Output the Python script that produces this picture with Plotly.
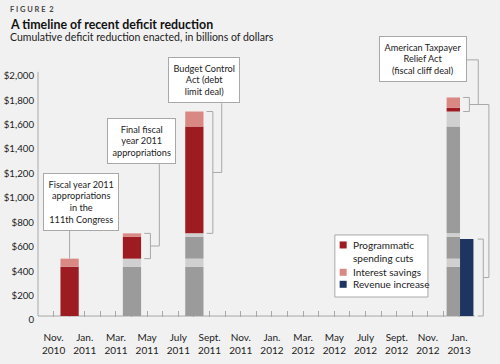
import plotly.graph_objects as go

# ---------------- data ----------------
event_names = [
    "Fiscal year 2011<br>appropriations<br>in the<br>111th Congress",
    "Final fiscal<br>year 2011<br>appropriations",
    "Budget Control<br>Act (debt<br>limit deal)",
    "American Taxpayer<br>Relief Act<br>(fiscal cliff deal)",
]
event_months = [1, 5, 9, 26]          # month index, 0 = Nov. 2010
spending_cuts = [404, 180, 875, 30]    # billions of dollars
interest_savings = [66, 27, 123, 85]
revenue_increase = [0, 0, 0, 630]

tick_labels = ["Nov.<br>2010", "", "Jan.<br>2011", "", "Mar.<br>2011", "", "May<br>2011", "",
               "July<br>2011", "", "Sept.<br>2011", "", "Nov.<br>2011", "", "Jan.<br>2012", "",
               "Mar.<br>2012", "", "May<br>2012", "", "July<br>2012", "", "Sept.<br>2012", "",
               "Nov.<br>2012", "", "Jan.<br>2013"]
y_tick_vals = [0, 200, 400, 600, 800, 1000, 1200, 1400, 1600, 1800, 2000]
y_tick_text = ["0", "$200", "$400", "$600", "$800", "$1,000", "$1,200", "$1,400", "$1,600", "$1,800", "$2,000"]

series_names = ["Programmatic<br>spending cuts", "Interest savings", "Revenue increase"]

# ---------------- styles ----------------
C_CUT, C_INT, C_REV = "#9c1c22", "#d98884", "#1e3561"
C_PCUT, C_PINT = "#9b9b9b", "#d0d0d0"
LINE = "#a8a8a8"
BG = "#f1f1f1"
FONT = "Lato"
TXT = "#222222"
bar_width = [1.17, 1.17, 1.17, 0.86]
bar_offset = [-0.56, -0.56, -0.56, -0.80]
rev_offset, rev_width = 0.06, 0.86

n = len(event_months)
cum_before = []
s = 0
for i in range(n):
    cum_before.append(s)
    s += spending_cuts[i] + interest_savings[i]

fig = go.Figure()

# prior (grey) segments
for j in range(n):
    later = list(range(j + 1, n))
    if not later:
        continue
    xs = [event_months[i] for i in later]
    fig.add_trace(go.Bar(x=xs, y=[spending_cuts[j]] * len(later), base=[cum_before[j]] * len(later),
                         width=[bar_width[i] for i in later], offset=[bar_offset[i] for i in later],
                         marker=dict(color=C_PCUT, line=dict(width=0)), showlegend=False, hoverinfo="skip"))
    fig.add_trace(go.Bar(x=xs, y=[interest_savings[j]] * len(later),
                         base=[cum_before[j] + spending_cuts[j]] * len(later),
                         width=[bar_width[i] for i in later], offset=[bar_offset[i] for i in later],
                         marker=dict(color=C_PINT, line=dict(width=0)), showlegend=False, hoverinfo="skip"))

# current event segments
fig.add_trace(go.Bar(x=event_months, y=spending_cuts, base=cum_before, width=bar_width, offset=bar_offset,
                     marker=dict(color=C_CUT, line=dict(width=0)), name="Programmatic spending cuts",
                     showlegend=False))
fig.add_trace(go.Bar(x=event_months, y=interest_savings,
                     base=[cum_before[i] + spending_cuts[i] for i in range(n)],
                     width=bar_width, offset=bar_offset, name="Interest savings",
                     marker=dict(color=C_INT, line=dict(width=0)), showlegend=False))
rev_idx = [i for i in range(n) if revenue_increase[i] > 0]
fig.add_trace(go.Bar(x=[event_months[i] for i in rev_idx], y=[revenue_increase[i] for i in rev_idx],
                     base=[0] * len(rev_idx), width=[rev_width] * len(rev_idx), offset=[rev_offset] * len(rev_idx),
                     name="Revenue increase",
                     marker=dict(color=C_REV, line=dict(width=0)), showlegend=False))

shapes = []
def path(pts):
    return "M " + " L ".join(f"{x},{y}" for x, y in pts)

# axis lines
shapes.append(dict(type="line", xref="paper", yref="y", x0=0, x1=0, y0=0, y1=2000,
                   line=dict(color=LINE, width=1), layer="below"))
shapes.append(dict(type="line", xref="x", yref="y", x0=-1.0, x1=27.0, y0=0, y1=0,
                   line=dict(color=LINE, width=1), layer="below"))

# annotation boxes (x center / bottom y in data units)
box_x = [1.73, 5.63, 9.63, 26.51]
box_bottom = [697, 1243, 1743, 1916]
box_side_y = 2098
annotations = []
for i in range(n):
    annotations.append(dict(x=box_x[i], y=box_bottom[i], xref="x", yref="y",
                            xanchor="right" if i == n - 1 else "center", yanchor="bottom",
                            text=event_names[i], showarrow=False, align="center",
                            font=dict(family=FONT, size=9.2, color=TXT),
                            bgcolor="#ffffff", bordercolor=LINE, borderwidth=1, borderpad=4.5))

# connectors
top0 = cum_before[0] + spending_cuts[0] + interest_savings[0]
xc0 = event_months[0] + bar_offset[0] + bar_width[0] / 2
shapes.append(dict(type="line", xref="x", yref="y", x0=xc0, x1=xc0, y0=top0, y1=box_bottom[0],
                   line=dict(color=LINE, width=1)))
mids = {}
for i in range(1, n):
    r = event_months[i] + bar_offset[i] + bar_width[i]
    lo = cum_before[i]
    hi = cum_before[i] + spending_cuts[i] + interest_savings[i]
    mid = (lo + hi) / 2
    pts = [(r + 0.2, hi), (r + 0.6, hi), (r + 0.6, lo), (r + 0.2, lo)]
    shapes.append(dict(type="path", xref="x", yref="y", path=path(pts), line=dict(color=LINE, width=1)))
    xm = r + 1.17
    if i < n - 1:
        conn = [(r + 0.6, mid), (xm, mid), (xm, box_bottom[i])]
    else:
        conn = [(r + 0.6, mid), (xm, mid), (xm, box_side_y), (box_x[i], box_side_y)]
        mids["atra"] = (xm, mid)
    shapes.append(dict(type="path", xref="x", yref="y", path=path(conn), line=dict(color=LINE, width=1)))

# revenue bracket
for i in rev_idx:
    r = event_months[i] + rev_offset + rev_width
    lo, hi = 0, revenue_increase[i]
    mid = (lo + hi) / 2
    pts = [(r + 0.27, hi), (r + 0.63, hi), (r + 0.63, lo), (r + 0.27, lo)]
    shapes.append(dict(type="path", xref="x", yref="y", path=path(pts), line=dict(color=LINE, width=1)))
    xm = r + 0.99
    xa, ya = mids["atra"]
    conn = [(r + 0.63, mid), (xm, mid), (xm, ya), (xa, ya)]
    shapes.append(dict(type="path", xref="x", yref="y", path=path(conn), line=dict(color=LINE, width=1)))

# paper-coordinate helpers
PLOT_L, PLOT_W = 38.42, 453.58
PLOT_B, PLOT_H = 316.98, 293.8
def px(xp): return (xp - PLOT_L) / PLOT_W
def py(yp): return (PLOT_B - yp) / PLOT_H

# legend (box, swatches, labels)
shapes.append(dict(type="rect", xref="paper", yref="paper", x0=px(335), x1=px(428), y0=py(297), y1=py(235),
                   fillcolor="#ffffff", line=dict(color=LINE, width=1), layer="above"))
legend_colors = [C_CUT, C_INT, C_REV]
legend_y = [251.6, 272.3, 284.3]
legend_sw = [245, 272.3, 284.3]
for name, col, ly, sy in zip(series_names, legend_colors, legend_y, legend_sw):
    shapes.append(dict(type="rect", xref="paper", yref="paper", x0=px(339.8), x1=px(346.8),
                       y0=py(sy + 3.5), y1=py(sy - 3.5), fillcolor=col, line=dict(width=0), layer="above"))
    annotations.append(dict(x=px(351.5), y=py(ly), xref="paper", yref="paper", xanchor="left", yanchor="middle",
                            showarrow=False, align="left", text=name,
                            font=dict(family=FONT, size=10, color=TXT)))

# titles
annotations += [
    dict(x=px(8.5), y=py(9.5), xref="paper", yref="paper", xanchor="left", yanchor="middle", showarrow=False,
         text="<b>F I G U R E  2</b>", font=dict(family=FONT, size=7.5, color="#444444")),
    dict(x=px(8.5), y=py(25), xref="paper", yref="paper", xanchor="left", yanchor="middle", showarrow=False,
         text="<b>A timeline of recent deficit reduction</b>", font=dict(family=FONT, size=12.4, color="#111111")),
    dict(x=px(8.5), y=py(37), xref="paper", yref="paper", xanchor="left", yanchor="middle", showarrow=False,
         text="Cumulative deficit reduction enacted, in billions of dollars",
         font=dict(family=FONT, size=10.5, color="#222222")),
]

fig.update_layout(
    width=500, height=364,
    margin=dict(l=PLOT_L, r=8, t=23.18, b=47.02, pad=0),
    paper_bgcolor=BG, plot_bgcolor=BG,
    barmode="overlay",
    font=dict(family=FONT, size=10.5, color=TXT),
    shapes=shapes, annotations=annotations,
    showlegend=False,
    xaxis=dict(range=[-1.0, 28.11], tickvals=list(range(len(tick_labels))), ticktext=tick_labels,
               ticks="inside", ticklen=6, tickcolor=LINE, tickwidth=1, showgrid=False, zeroline=False,
               showline=False, automargin=False, layer="below traces",
               tickfont=dict(family=FONT, size=10, color=TXT), ticklabelstandoff=13),
    yaxis=dict(range=[-8, 2400], tickvals=y_tick_vals, ticktext=y_tick_text, ticks="",
               showgrid=False, zeroline=False, showline=False, automargin=False,
               ticklabelshift=4, ticklabelstandoff=3,
               tickfont=dict(family=FONT, size=9.7, color=TXT)),
)

fig.write_html("out.html", config={"displayModeBar": False},
               post_script="document.body.style.margin='0px';document.body.style.background='" + BG + "';")
